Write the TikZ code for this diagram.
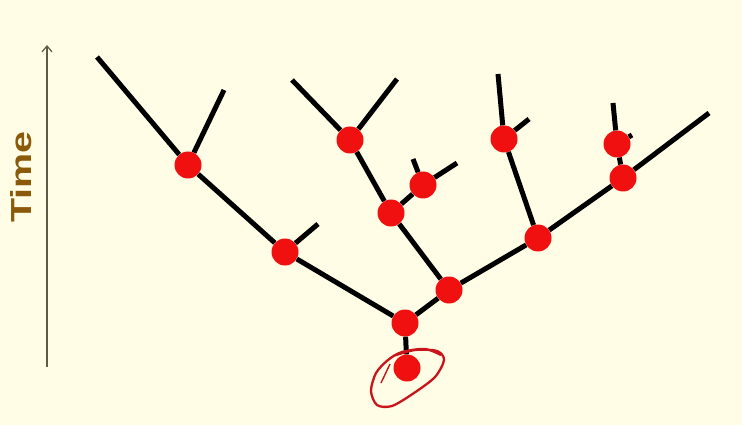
\documentclass[tikz,border=0pt]{standalone}
\usepackage{fontspec}
\setmainfont{Liberation Sans}
\usetikzlibrary{arrows.meta}
\definecolor{bg}{HTML}{FFFDE6}
\definecolor{dot}{HTML}{F01010}
\definecolor{ink}{HTML}{C8141A}
\definecolor{timec}{HTML}{8A5A0A}
\definecolor{axis}{HTML}{5E5A45}
\begin{document}
\begin{tikzpicture}[x=1pt,y=-1pt,
  sp/.style={circle,fill=dot,minimum size=27pt,inner sep=0pt},
  br/.style={line width=5pt,black},
  ax/.style={line width=1.2pt,axis,-{Straight Barb[length=6pt,width=10pt]}}]
\fill[bg] (0,0) rectangle (742,425);
\useasboundingbox (0,0) rectangle (742,425);
% time axis
\coordinate (t0) at (47,367);
\coordinate (t1) at (47,45);
\draw[ax] (t0) -- (t1);
\node[rotate=90,text=timec,font=\bfseries\fontsize{29}{30}\selectfont] (time) at (21,177) {\scalebox{1.36}[1]{Time}};
% species nodes
\node[sp] (R0) at (407,368) {};
\node[sp] (R1) at (405,323) {};
\node[sp] (A)  at (449,290) {};
\node[sp] (L1) at (285,252) {};
\node[sp] (L2) at (188,165) {};
\node[sp] (M1) at (391,213) {};
\node[sp] (M2) at (350,140) {};
\node[sp] (M3) at (423,185) {};
\node[sp] (B1) at (538,238) {};
\node[sp] (B2) at (623,178) {};
\node[sp] (B3) at (504,139) {};
\node[sp] (B4) at (617,144) {};
% free ends
\coordinate (e1) at (97,57);
\coordinate (e2) at (224,90);
\coordinate (e3) at (318,224);
\coordinate (e4) at (292,80);
\coordinate (e5) at (397,79);
\coordinate (e6) at (413,159);
\coordinate (e7) at (457,163);
\coordinate (e8) at (709,113);
\coordinate (e9) at (498,74);
\coordinate (e10) at (529,119);
\coordinate (e11) at (613,103);
\coordinate (e12) at (632,135);
\draw[br] (R0) -- (R1);
\draw[br] (R1) -- (L1);
\draw[br] (L1) -- (L2);
\draw[br] (L2) -- (e1);
\draw[br] (L2) -- (e2);
\draw[br] (L1) -- (e3);
\draw[br] (R1) -- (A);
\draw[br] (A) -- (M1);
\draw[br] (M1) -- (M2);
\draw[br] (M2) -- (e4);
\draw[br] (M2) -- (e5);
\draw[br] (M1) -- (M3);
\draw[br] (M3) -- (e6);
\draw[br] (M3) -- (e7);
\draw[br] (A) -- (B1);
\draw[br] (B1) -- (B2);
\draw[br] (B2) -- (e8);
\draw[br] (B1) -- (B3);
\draw[br] (B3) -- (e9);
\draw[br] (B3) -- (e10);
\draw[br] (B2) -- (B4);
\draw[br] (B4) -- (e11);
\draw[br] (B4) -- (e12);
% hand-drawn loop around the ancestor
\draw[ink,line width=2.3pt,line join=round]
  plot[smooth] coordinates {(393,356) (415,350) (437,351) (444,360) (435,377) (414,393) (392,406) (377,405) (371,391) (376,373) (388,360) (402,352) (425,349) (441,355)};
\draw[ink,line width=1.4pt] (381,383) -- (390,364);
\end{tikzpicture}
\end{document}
